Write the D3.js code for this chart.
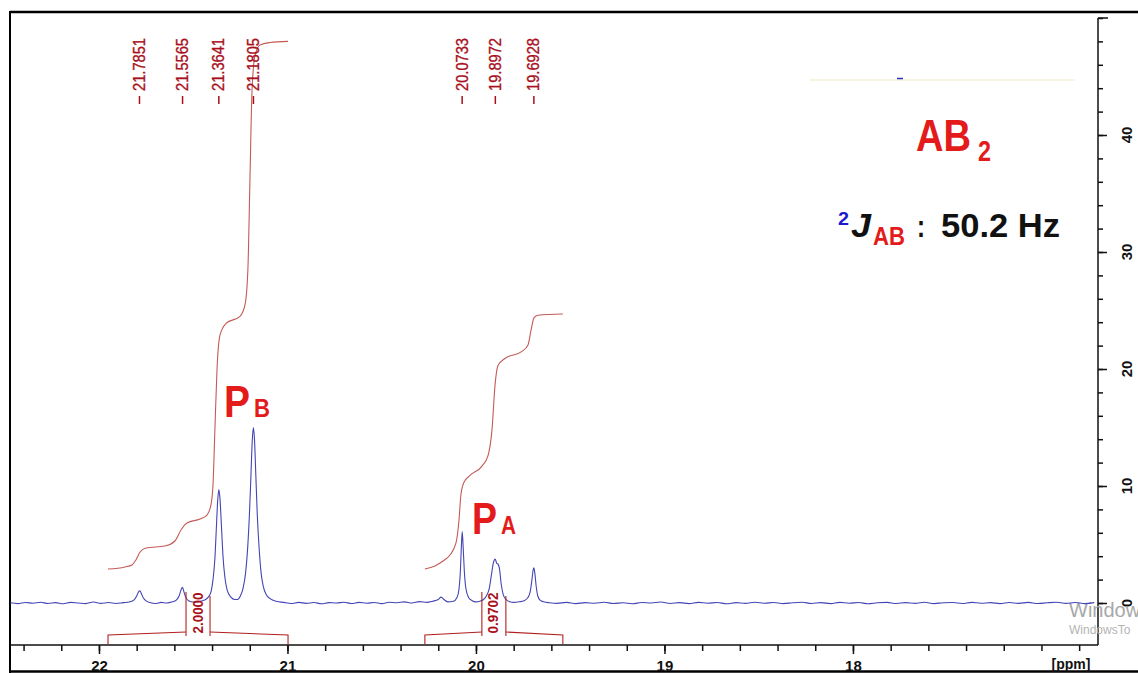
<!DOCTYPE html>
<html><head><meta charset="utf-8">
<script src="https://cdn.jsdelivr.net/npm/d3@7"></script>
<style>body{margin:0;background:#fff}</style>
</head><body><svg id="c" width="1138" height="673"></svg>
<script>
// ---- data (ppm, intensity) ----
const spectrum = [
[22.47,0.02],[22.43,-0.05],[22.39,0.04],[22.35,-0.02],[22.31,0.06],[22.27,-0.04],[22.23,0.03],[22.19,-0.06],
[22.15,0.05],[22.11,0.0],[22.07,-0.05],[22.03,0.08],[21.99,-0.03],[21.95,0.04],[21.91,-0.04],[21.87,0.03],
[21.84,0.08],[21.815,0.25],[21.80,0.6],[21.79,0.95],[21.783,1.05],[21.775,0.8],[21.765,0.45],[21.75,0.18],
[21.73,0.05],[21.70,-0.04],[21.67,0.05],[21.64,0.0],[21.61,0.1],
[21.59,0.25],[21.575,0.6],[21.565,1.1],[21.557,1.35],[21.55,1.0],[21.54,0.5],[21.525,0.2],[21.50,0.08],[21.47,0.12],
[21.44,0.25],[21.42,0.5],[21.405,1.0],[21.395,2.0],[21.385,3.8],[21.377,6.5],[21.370,8.8],[21.364,9.7],
[21.358,8.9],[21.350,6.5],[21.342,4.0],[21.332,2.2],[21.32,1.1],[21.30,0.5],[21.28,0.3],[21.265,0.3],
[21.25,0.6],[21.235,1.3],[21.222,2.6],[21.212,4.5],[21.202,7.5],[21.194,10.8],[21.187,13.8],[21.181,15.0],
[21.175,14.0],[21.168,11.0],[21.160,7.5],[21.150,4.6],[21.140,2.6],[21.128,1.4],[21.112,0.7],[21.09,0.35],
[21.06,0.15],[21.02,0.05],
[20.98,-0.04],[20.94,0.05],[20.90,-0.03],[20.86,0.04],[20.82,-0.06],[20.78,0.03],[20.74,0.0],[20.70,0.06],
[20.66,-0.04],[20.62,0.05],[20.58,-0.02],[20.54,0.04],[20.50,-0.05],[20.46,0.06],[20.42,0.02],[20.38,0.1],
[20.34,0.0],[20.30,0.12],[20.26,0.05],[20.23,0.15],
[20.20,0.3],[20.185,0.5],[20.17,0.3],[20.15,0.1],[20.12,0.15],
[20.10,0.5],[20.09,1.2],[20.083,2.6],[20.078,4.6],[20.073,6.1],[20.068,4.8],[20.062,2.8],[20.054,1.3],
[20.04,0.5],[20.02,0.2],[20.0,0.1],[19.98,0.15],[19.96,0.3],[19.945,0.6],
[19.93,1.2],[19.918,2.4],[19.908,3.4],[19.898,3.75],[19.89,3.4],[19.882,3.3],[19.875,2.9],[19.866,1.6],
[19.855,0.7],[19.84,0.3],[19.82,0.1],[19.80,0.05],[19.77,0.1],[19.745,0.2],
[19.725,0.45],[19.712,1.0],[19.703,2.0],[19.697,2.8],[19.693,3.0],[19.688,2.6],[19.681,1.5],[19.672,0.6],
[19.66,0.25],[19.64,0.1],[19.61,0.02],
[19.57,-0.03],[19.52,0.05],[19.47,-0.05],[19.42,0.03],[19.37,-0.02],[19.32,0.06],[19.27,-0.04],[19.22,0.02],
[19.17,-0.06],[19.12,0.04],[19.07,0.0],[19.02,0.08],[18.97,-0.04],[18.92,0.03],[18.87,-0.05],[18.82,0.05],
[18.77,-0.02],[18.72,0.04],[18.67,-0.06],[18.62,0.03],[18.57,-0.03],[18.52,0.07],[18.47,-0.02],[18.42,0.04],
[18.37,-0.05],[18.32,0.02],[18.27,0.06],[18.22,-0.04],[18.17,0.03],[18.12,-0.05],[18.07,0.05],[18.02,-0.02],
[17.97,0.04],[17.92,-0.06],[17.87,0.02],[17.82,0.05],[17.77,-0.04],[17.72,0.03],[17.67,-0.03],[17.62,0.06],
[17.57,-0.05],[17.52,0.02],[17.47,0.04],[17.42,-0.04],[17.37,0.05],[17.32,-0.02],[17.27,0.03],[17.22,-0.05],
[17.17,0.04],[17.12,-0.03],[17.07,0.05],[17.02,-0.04],[16.97,0.02],[16.92,0.06],[16.87,-0.03],[16.82,0.04],
[16.77,-0.05],[16.72,0.03]
];
const integral1 = [
[21.952,2.9],[21.862,3.08],[21.825,3.25],[21.804,3.68],[21.782,4.36],[21.751,4.7],[21.650,4.87],[21.597,5.3],
[21.565,6.24],[21.533,6.84],[21.464,7.18],[21.427,7.52],[21.406,8.38],[21.395,10.1],[21.385,14.8],[21.374,19.9],
[21.358,22.9],[21.326,23.9],[21.252,24.5],[21.225,25.5],[21.210,28.5],[21.199,36.2],[21.188,43.8],[21.172,46.8],
[21.146,47.7],[21.093,47.9],[20.997,48.0]
];
const integral2 = [
[20.271,2.9],[20.218,3.16],[20.175,3.59],[20.138,4.1],[20.106,5.13],[20.090,7.09],[20.080,9.23],[20.064,10.3],
[20.032,10.9],[19.968,11.7],[19.936,12.6],[19.915,14.8],[19.899,18.6],[19.883,20.3],[19.846,20.9],[19.756,21.5],
[19.724,22.05],[19.708,23.3],[19.692,24.4],[19.671,24.6],[19.539,24.7]
];
const peakLabels = [21.7851, 21.5565, 21.3641, 21.1805, 20.0733, 19.8972, 19.6928];
const integralRanges = [[21.952,20.997],[20.271,19.539]];
const integralValues = ["2.0000","0.9702"];
const xTickValues = [22,21,20,19,18];
const yTickValues = [0,10,20,30,40];

// ---- drawing ----
const svg = d3.select("#c");
svg.append("rect").attr("width",1138).attr("height",673).attr("fill","#fff");

const x = d3.scaleLinear().domain([22.472,16.700]).range([10,1098]);
const y = d3.scaleLinear().domain([0,50]).range([603,18]);
const axisY = 645;

const RED = "#e31b1b", DRED = "#a8101c";

// faint decorations
svg.append("line").attr("x1",810).attr("x2",1075).attr("y1",80).attr("y2",80).attr("stroke","#f7f4e2").attr("stroke-width",2);
svg.append("line").attr("x1",897).attr("x2",903).attr("y1",78.5).attr("y2",78.5).attr("stroke","#3030c0").attr("stroke-width",1.5);

// frame
svg.append("line").attr("x1",10).attr("x2",1138).attr("y1",12).attr("y2",12).attr("stroke","#000").attr("stroke-width",2.5);
svg.append("line").attr("x1",10).attr("x2",10).attr("y1",11).attr("y2",673).attr("stroke","#000").attr("stroke-width",2);
svg.append("line").attr("x1",10).attr("x2",1138).attr("y1",671.5).attr("y2",671.5).attr("stroke","#000").attr("stroke-width",2.5);

// bottom axis
const gx = svg.append("g").attr("transform",`translate(0,${axisY})`);
gx.append("g").call(d3.axisBottom(x).tickValues(x.ticks(29)).tickSize(6).tickFormat(""))
  .call(g=>g.select(".domain").remove());
gx.append("g").call(d3.axisBottom(x).tickValues(xTickValues).tickSize(9).tickPadding(6).tickFormat(d3.format("d")))
  .call(g=>g.select(".domain").remove());
gx.selectAll("line").attr("stroke","#111").attr("stroke-width",1.5);
gx.selectAll("text").attr("font-family","Liberation Sans, Arial, sans-serif").attr("font-weight","bold").attr("font-size",15).attr("fill","#111");
svg.append("line").attr("x1",10).attr("x2",1098).attr("y1",axisY).attr("y2",axisY).attr("stroke","#111").attr("stroke-width",1.5);
svg.append("text").attr("x",1071).attr("y",669).attr("text-anchor","middle")
  .attr("font-family","Liberation Sans, Arial, sans-serif").attr("font-weight","bold").attr("font-size",14).attr("fill","#111").text("[ppm]");

// right axis
const gy = svg.append("g").attr("transform","translate(1098,0)");
gy.append("g").call(d3.axisRight(y).tickValues(y.ticks(25)).tickSize(5).tickFormat(""))
  .call(g=>g.select(".domain").remove());
gy.append("g").call(d3.axisRight(y).tickValues(yTickValues).tickSize(9).tickFormat(""))
  .call(g=>g.select(".domain").remove());
gy.append("line").attr("x1",0).attr("x2",10).attr("y1",y(50)).attr("y2",y(50));
gy.selectAll("line").attr("stroke","#111").attr("stroke-width",1.5);
gy.selectAll("text.ylab").data(yTickValues).enter().append("text")
  .attr("transform",d=>`translate(${28},${y(d)}) rotate(-90)`)
  .attr("text-anchor","middle").attr("dominant-baseline","central")
  .attr("font-family","Liberation Sans, Arial, sans-serif").attr("font-weight","bold").attr("font-size",15).attr("fill","#111")
  .text(d=>d);
svg.append("line").attr("x1",1098).attr("x2",1098).attr("y1",y(50)).attr("y2",axisY).attr("stroke","#111").attr("stroke-width",1.5);

// watermark (clipped at the window edge, as in the reference)
svg.append("text").attr("x",1069).attr("y",617).attr("font-family","Liberation Sans, Arial, sans-serif").attr("font-size",20).attr("fill","#a8a8a8").text("Windows");
svg.append("text").attr("x",1069).attr("y",634).attr("font-family","Liberation Sans, Arial, sans-serif").attr("font-size",12).attr("fill","#b4b4b4").text("WindowsTo");

// spectrum
const line = d3.line().x(d=>x(d[0])).y(d=>y(d[1])).curve(d3.curveMonotoneX);
svg.append("path").datum(spectrum).attr("d",line).attr("fill","none").attr("stroke","#4444b4").attr("stroke-width",1.1);

// integrals
[integral1, integral2].forEach(d=>{
  svg.append("path").datum(d).attr("d",line).attr("fill","none").attr("stroke","#c45a56").attr("stroke-width",1.1);
});

// integral brackets
integralRanges.forEach((r,i)=>{
  const xa = x(r[0]), xb = x(r[1]), xm = (xa+xb)/2;
  const g = svg.append("g").attr("stroke","#b02020").attr("stroke-width",1.1).attr("fill","none");
  g.append("path").attr("d",`M${xa},${axisY-1} L${xa},${axisY-10} L${xm-12},${axisY-13}`);
  g.append("path").attr("d",`M${xb},${axisY-1} L${xb},${axisY-10} L${xm+12},${axisY-13}`);
  g.append("line").attr("x1",xm-12).attr("x2",xm-12).attr("y1",592).attr("y2",axisY-9);
  g.append("line").attr("x1",xm+12).attr("x2",xm+12).attr("y1",596).attr("y2",axisY-9);
  svg.append("text").attr("transform",`translate(${xm-1},${613}) rotate(-90)`)
    .attr("text-anchor","middle").attr("dominant-baseline","central")
    .attr("font-family","Liberation Sans Narrow, Liberation Sans, Arial, sans-serif").attr("font-weight","bold")
    .attr("font-size",15).attr("textLength",41).attr("lengthAdjust","spacingAndGlyphs")
    .attr("fill",DRED).text(integralValues[i]);
});

// peak labels
const pl = svg.selectAll("g.pk").data(peakLabels).enter().append("g").attr("transform",d=>`translate(${x(d)},0)`);
pl.append("line").attr("x1",0).attr("x2",0).attr("y1",96).attr("y2",104).attr("stroke",DRED).attr("stroke-width",1.5);
pl.append("text").attr("transform","translate(0,91) rotate(-90)")
  .attr("dominant-baseline","central")
  .attr("font-family","Liberation Sans Narrow, Liberation Sans, Arial, sans-serif")
  .attr("font-size",16).attr("textLength",53).attr("lengthAdjust","spacingAndGlyphs")
  .attr("fill",DRED).attr("stroke",DRED).attr("stroke-width",0.35).text(d=>d3.format(".4f")(d));

// annotations
const F = "Liberation Sans, Arial, sans-serif";
function t(xp, yp, s, size, color, len, extra){
  const e = svg.append("text").attr("x",xp).attr("y",yp).attr("font-family",F).attr("font-weight","bold")
    .attr("font-size",size).attr("fill",color).text(s);
  if(len) e.attr("textLength",len).attr("lengthAdjust","spacingAndGlyphs");
  if(extra) e.attr("font-style",extra);
  return e;
}
t(916,151,"AB",44,RED,55);
t(978,161,"2",30,RED,13);
t(838,225,"2",18,"#1a1ad0",11);
t(851,237,"J",33,"#111",20,"italic");
t(873,245,"AB",26,RED,32);
t(917,237,":",32,"#111",8);
t(941,237,"50.2 Hz",34,"#111",119);
t(224,417,"P",44,RED,26);
t(254,417,"B",26,RED,16);
t(472,534,"P",44,RED,25);
t(501,534,"A",26,RED,15);
</script></body></html>
